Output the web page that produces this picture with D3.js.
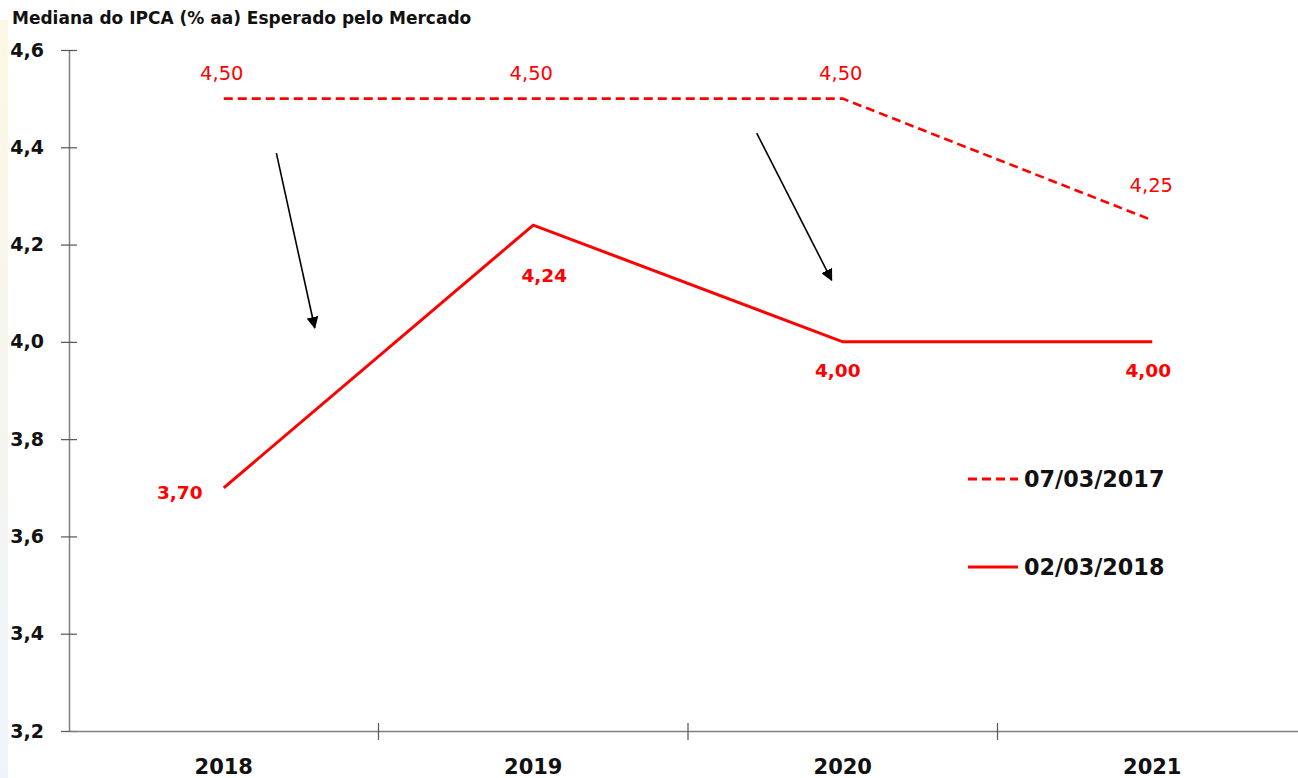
<!DOCTYPE html>
<html><head><meta charset="utf-8">
<script src="https://cdn.jsdelivr.net/npm/d3@7"></script>
<style>body{margin:0;background:#fff;} svg{display:block;font-family:"DejaVu Sans",sans-serif;}</style>
</head><body>
<svg id="c" width="1298" height="778"></svg>
<script>
const years = ["2018","2019","2020","2021"];
const serie2017 = [4.50, 4.50, 4.50, 4.25];
const serie2018 = [3.70, 4.24, 4.00, 4.00];
const seriesNames = ["07/03/2017","02/03/2018"];
const yTicks = [3.2,3.4,3.6,3.8,4.0,4.2,4.4,4.6];
const title = "Mediana do IPCA (% aa) Esperado pelo Mercado";
// arrows: [year, offset in band, value] start -> end
const arrows = [
  {from:["2018",0.17,4.388], to:["2018",0.294,4.029]},
  {from:["2020",-0.278,4.429], to:["2020",-0.036,4.127]}
];

const svg = d3.select("#c");
const red = "#ff0000";
const fmt = v => v.toFixed(2).replace(".",",");

const defs = svg.append("defs");
const g1 = defs.append("linearGradient").attr("id","strip").attr("x1",0).attr("y1",0).attr("x2",0).attr("y2",1);
g1.append("stop").attr("offset","0%").attr("stop-color","#fdf8e4");
g1.append("stop").attr("offset","100%").attr("stop-color","#eef4fb");
svg.append("rect").attr("x",0).attr("y",20).attr("width",8).attr("height",758).attr("fill","url(#strip)");

defs.append("marker").attr("id","ah").attr("viewBox","0 0 10 10").attr("refX",9).attr("refY",5)
  .attr("markerWidth",12).attr("markerHeight",12).attr("markerUnits","userSpaceOnUse").attr("orient","auto")
  .append("path").attr("d","M0,0L10,5L0,10Z").attr("fill","#000");

const x = d3.scaleBand().domain(years).range([69,1307]).padding(0);
const y = d3.scaleLinear().domain([3.2,4.6]).range([731,50]);
const cx = d => x(d) + x.bandwidth()/2;

svg.append("text").attr("x",12).attr("y",24).text(title)
  .attr("font-size",17).attr("font-weight","bold").attr("fill","#111");

const ya = svg.append("g").attr("transform","translate(69,0)")
  .call(d3.axisLeft(y).tickValues(yTicks).tickSize(0).tickPadding(25).tickFormat(d=>d.toFixed(1).replace(".",",")));
ya.select(".domain").attr("stroke","#808080").attr("stroke-width",1.5);
ya.selectAll("text").attr("font-size",19).attr("font-weight","bold").attr("fill","#111").attr("font-family","DejaVu Sans");
ya.selectAll(".tick").append("line").attr("x1",-8).attr("x2",8).attr("stroke","#555").attr("stroke-width",1.2);

const xa = svg.append("g").attr("transform","translate(0,731)")
  .call(d3.axisBottom(x).tickSize(0).tickPadding(28));
xa.select(".domain").attr("stroke","#808080").attr("stroke-width",1.5);
xa.selectAll("text").attr("font-size",21).attr("font-weight","bold").attr("fill","#111").attr("font-family","DejaVu Sans");
xa.selectAll(".bnd").data(years.slice(1)).enter().append("line")
  .attr("x1",d=>x(d)).attr("x2",d=>x(d)).attr("y1",-8).attr("y2",9).attr("stroke","#555").attr("stroke-width",1.2);

const line = d3.line().x((d,i)=>cx(years[i])).y(d=>y(d));
svg.append("path").datum(serie2017).attr("d",line).attr("fill","none").attr("stroke",red)
  .attr("stroke-width",2.6).attr("stroke-dasharray","9,5");
svg.append("path").datum(serie2018).attr("d",line).attr("fill","none").attr("stroke",red)
  .attr("stroke-width",3);

const off2017 = [[-2,-19],[-2,-19],[-2,-19],[-1,-28]];
serie2017.forEach((v,i)=>{
  svg.append("text").attr("x",cx(years[i])+off2017[i][0]).attr("y",y(v)+off2017[i][1]).attr("text-anchor","middle")
    .attr("font-size",19.5).attr("fill",red).text(fmt(v));
});
const off2018 = [[-44,11],[11,57],[-5,35],[-4,35]];
serie2018.forEach((v,i)=>{
  svg.append("text").attr("x",cx(years[i])+off2018[i][0]).attr("y",y(v)+off2018[i][1]).attr("text-anchor","middle")
    .attr("font-size",18.5).attr("font-weight","bold").attr("fill",red).text(fmt(v));
});

arrows.forEach(a=>{
  svg.append("line")
    .attr("x1",cx(a.from[0])+a.from[1]*x.bandwidth()).attr("y1",y(a.from[2]))
    .attr("x2",cx(a.to[0])+a.to[1]*x.bandwidth()).attr("y2",y(a.to[2]))
    .attr("stroke","#000").attr("stroke-width",1.6).attr("marker-end","url(#ah)");
});

const leg = [{name:seriesNames[0],dash:"9,5",yy:479},{name:seriesNames[1],dash:null,yy:567}];
leg.forEach(l=>{
  svg.append("line").attr("x1",968).attr("x2",1018).attr("y1",l.yy).attr("y2",l.yy)
    .attr("stroke",red).attr("stroke-width",3).attr("stroke-dasharray",l.dash);
  svg.append("text").attr("x",1024).attr("y",l.yy+8).attr("font-size",22.3).attr("font-weight","bold")
    .attr("fill","#111").text(l.name);
});
</script>
</body></html>
